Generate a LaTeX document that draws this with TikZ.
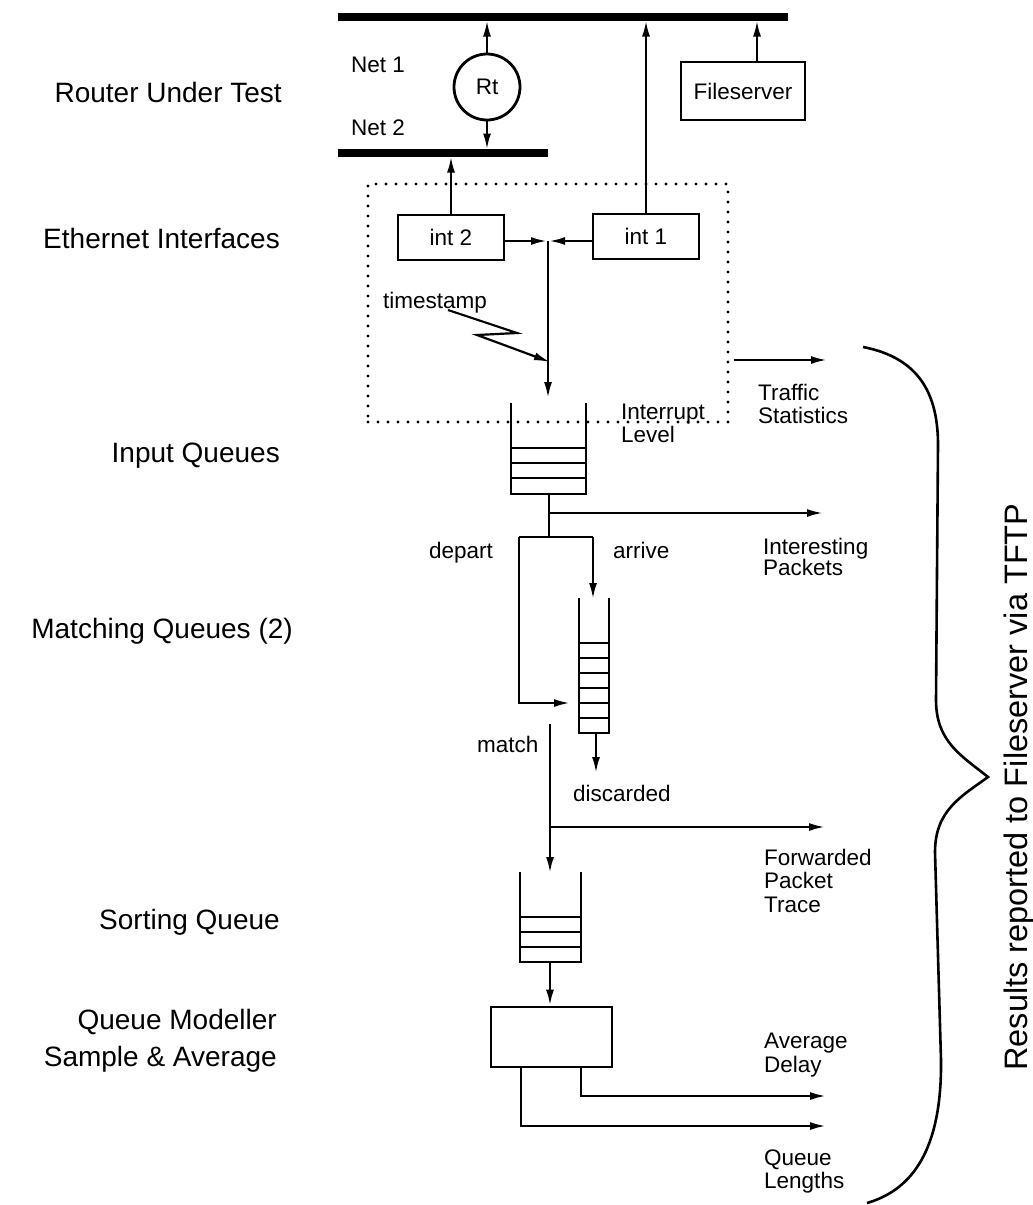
\documentclass[tikz,border=0pt]{standalone}
\usepackage{fontspec}
\setmainfont{Liberation Sans}
\usetikzlibrary{arrows.meta,calc}
\begin{document}
\begin{tikzpicture}[x=1pt,y=-1pt,
  line width=2.4pt,
  arr/.style={-{Latex[length=16pt,width=8pt]}},
  lbl/.style={font=\fontsize{22.5}{23}\selectfont, inner sep=0pt},
  bl/.style={lbl, anchor=base west},
  side/.style={font=\fontsize{28}{30}\selectfont, inner sep=0pt, anchor=base east},
  bx/.style={draw, line width=2.8pt},
  bar/.style={line width=7.5pt},
  qwall/.style={line width=2.8pt},
  dotbox/.style={draw, line width=3.2pt, dash pattern=on 0pt off 10pt, line cap=round, inner sep=0pt}
]
\useasboundingbox (0,0) rectangle (1033,1205);

% ---------- networks ----------
\coordinate (n1a) at (338,17); \coordinate (n1b) at (788,17);
\coordinate (n2a) at (338,153); \coordinate (n2b) at (548,153);
\draw[bar] (n1a) -- (n1b);
\draw[bar] (n2a) -- (n2b);
\node[bl] (net1) at (350,72) {Net 1};
\node[bl] (net2) at (350,135) {Net 2};

\node[lbl, draw, circle, line width=2.8pt, minimum size=66pt] (rt) at (487,87) {Rt};
\draw[arr, shorten >=3.5pt] (rt.north) -- (rt.north |- n1a);
\draw[arr, shorten >=3.5pt] (rt.south) -- (rt.south |- n2a);

\node[lbl, bx, minimum width=124pt, minimum height=58pt] (fs) at (743,91) {Fileserver};
\draw[arr, shorten >=3.5pt] ([xshift=14pt]fs.north) -- ([xshift=14pt]fs.north |- n1a);

% ---------- interfaces ----------
\node[dotbox, minimum width=360pt, minimum height=238pt] (ilvl) at (548,303) {};
\node[lbl, bx, minimum width=106pt, minimum height=45pt] (int2) at (451,237.5) {int 2};
\node[lbl, bx, minimum width=106pt, minimum height=45pt] (int1) at (646,236.5) {int 1};
\draw[arr, shorten >=3.5pt] (int2.north) -- (int2.north |- n2a);
\draw[arr, shorten >=3.5pt] (int1.north) -- (int1.north |- n1a);

\coordinate (j) at (548,241);
\coordinate (q1in) at (548,398);
\draw[arr, shorten >=1pt] (int2.east |- j) -- (j);
\draw[arr, shorten >=1pt] (int1.west |- j) -- (j);
\draw[arr] (j) -- (q1in);

\node[bl] (ts) at (382,308) {timestamp};
\coordinate (z0) at (448,310);
\coordinate (z1) at (517,333);
\coordinate (z2) at (477,335);
\coordinate (z3) at (550,362);
\draw[arr, line width=2.2pt] (z0) -- (z1) -- (z2) -- (z3);

\node[bl] (il1) at (620,419) {Interrupt};
\node[bl] (il2) at (620,442) {Level};

\coordinate (tstat) at (827,360);
\draw[arr, shorten <=4pt] (ilvl.east |- tstat) -- (tstat);
\node[bl] (tr1) at (757,400) {Traffic};
\node[bl] (tr2) at (757,423) {Statistics};

% ---------- input queue ----------
\draw[qwall] (511,403) -- (511,494) -- (586,494) -- (586,403);
\foreach \yy in {448,463,478} \draw[qwall] (511,\yy) -- (586,\yy);
\coordinate (q1out) at (549,494);
\coordinate (split) at (549,537);
\coordinate (tap1) at (549,513);
\coordinate (ip) at (823,513);
\draw (q1out) -- (split);
\draw[arr] (tap1) -- (ip);
\node[bl] (ip1) at (762,554) {Interesting};
\node[bl] (ip2) at (762,575) {Packets};

\coordinate (dep) at (519,537);
\coordinate (arv) at (593,537);
\draw (dep) -- (arv);
\node[bl] (deplbl) at (428,558) {depart};
\node[bl] (arvlbl) at (612,558) {arrive};

% ---------- matching queue ----------
\draw[qwall] (579,598) -- (579,733) -- (609,733) -- (609,598);
\foreach \yy in {643,658,673,688,703,718} \draw[qwall] (579,\yy) -- (609,\yy);
\coordinate (mqin) at (593,599);
\coordinate (mqside) at (570,703);
\draw[arr] (arv) -- (mqin);
\draw[arr] (dep) |- (mqside);
\coordinate (mqout) at (596,733);
\coordinate (disc) at (596,773);
\draw[arr] (mqout) -- (disc);
\node[bl] (disclbl) at (572,801) {discarded};

\coordinate (m0) at (550,724);
\coordinate (tap2) at (550,827);
\coordinate (sqin) at (550,873);
\coordinate (fw) at (825,827);
\draw[arr] (m0) -- (sqin);
\draw[arr] (tap2) -- (fw);
\node[bl] (matchlbl) at (476,752) {match};
\node[bl] (fw1) at (763,865) {Forwarded};
\node[bl] (fw2) at (763,888) {Packet};
\node[bl] (fw3) at (763,912) {Trace};

% ---------- sorting queue ----------
\draw[qwall] (520,872) -- (520,962) -- (581,962) -- (581,872);
\foreach \yy in {917,932,947} \draw[qwall] (520,\yy) -- (581,\yy);
\coordinate (sqout) at (550,962);

\node[bx, minimum width=121pt, minimum height=60pt, inner sep=0pt] (mod) at (551.5,1037) {};
\draw[arr] (sqout) -- (sqout |- mod.north);

\coordinate (ad) at (826,1096);
\coordinate (ql) at (826,1126);
\draw[arr] ([xshift=29.5pt]mod.south) |- (ad);
\draw[arr] ([xshift=-30.5pt]mod.south) |- (ql);
\node[bl] (ad1) at (763,1048) {Average};
\node[bl] (ad2) at (763,1072) {Delay};
\node[bl] (ql1) at (763,1165) {Queue};
\node[bl] (ql2) at (763,1188) {Lengths};

% ---------- left labels ----------
\node[side] (s1) at (283,102) {Router Under Test};
\node[side] (s2) at (281,248) {Ethernet Interfaces};
\node[side] (s3) at (281,462) {Input Queues};
\node[side] (s4) at (294,638) {Matching Queues (2)};
\node[side] (s5) at (281,929) {Sorting Queue};
\node[side] (s6) at (278,1029) {Queue Modeller};
\node[side] (s7) at (278,1066) {Sample \& Average};

% ---------- brace ----------
\draw[line width=2.6pt] (863,347) .. controls (920,358) and (938,395) .. (938,445)
  -- (936,700) .. controls (936,742) and (962,756) .. (988,777)
  .. controls (962,796) and (935,810) .. (935,852)
  -- (941,1060) .. controls (942,1150) and (912,1190) .. (867,1203);
\node[font=\fontsize{32.5}{34}\selectfont, inner sep=0pt, anchor=base, rotate=90] (res) at (1027,787) {Results reported to Fileserver via TFTP};
\end{tikzpicture}
\end{document}
